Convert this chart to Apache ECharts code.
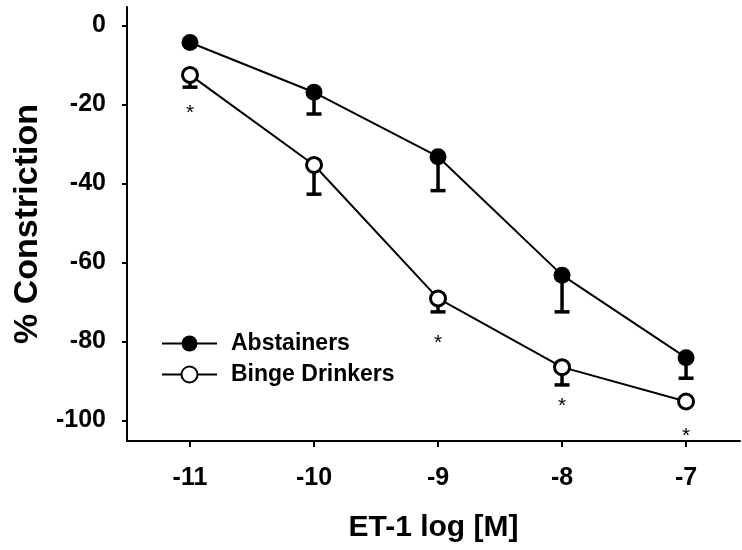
<!DOCTYPE html>
<html>
<head>
<meta charset="utf-8">
<script src="https://cdn.jsdelivr.net/npm/echarts@6/dist/echarts.min.js"></script>
<style>html,body{margin:0;padding:0;background:#fff;}#c{width:742px;height:550px;}</style>
</head>
<body>
<div id="c"></div>
<script>
const xValues = [-11, -10, -9, -8, -7];
const abstainers = [-4.3, -16.9, -33.2, -63.2, -84.1];
const abstainersErrLow = [null, -22.4, -41.8, -72.5, -89.3];
const binge = [-12.5, -35.3, -69.1, -86.5, -95.2];
const bingeErrLow = [-15.6, -42.7, -72.5, -91.0, null];
const asteriskX = [-11, -9, -8, -7];
const asteriskY = [-20.9, -79.1, -95.2, -102.8];
const yTicks = [0, -20, -40, -60, -80, -100];
const xTicks = [-11, -10, -9, -8, -7];
const seriesNames = ['Abstainers', 'Binge Drinkers'];

const FONT = "'Liberation Sans', Arial, sans-serif";
const chart = echarts.init(document.getElementById('c'), null, {renderer: 'canvas'});

function pairs(xs, ys) { return xs.map((x, i) => [x, ys[i]]); }
function errData(xs, mean, low) {
  const out = [];
  xs.forEach((x, i) => { if (low[i] !== null) out.push([x, mean[i], low[i]]); });
  return out;
}
function errRender(params, api) {
  const p0 = api.coord([api.value(0), api.value(1)]);
  const p1 = api.coord([api.value(0), api.value(2)]);
  const hw = 7.5;
  return {
    type: 'group',
    children: [
      {type: 'line', shape: {x1: p0[0], y1: p0[1], x2: p1[0], y2: p1[1]}, style: {stroke: '#000', lineWidth: 3.5}},
      {type: 'line', shape: {x1: p1[0] - hw, y1: p1[1], x2: p1[0] + hw, y2: p1[1]}, style: {stroke: '#000', lineWidth: 3.5}}
    ]
  };
}

const option = {
  animation: false,
  backgroundColor: '#fff',
  grid: {left: 127, right: 2, top: 7, bottom: 109, containLabel: false},
  legend: {
    orient: 'vertical',
    left: 161,
    top: 332,
    padding: 0,
    itemWidth: 55,
    itemHeight: 20,
    itemGap: 8,
    data: seriesNames,
    textStyle: {fontFamily: FONT, fontSize: 23, fontWeight: 'bold', color: '#000', padding: [0, 0, 0, 9]}
  },
  xAxis: {
    type: 'value',
    min: -11.508,
    max: -6.565,
    name: 'ET-1 log [M]',
    nameLocation: 'middle',
    nameGap: 72,
    nameTextStyle: {fontFamily: FONT, fontSize: 30, fontWeight: 'bold', color: '#000'},
    axisLine: {show: true, onZero: false, lineStyle: {color: '#000', width: 2}},
    axisTick: {show: true, customValues: xTicks, length: 6, lineStyle: {color: '#000', width: 2}},
    axisLabel: {show: true, customValues: xTicks, margin: 25, fontFamily: FONT, fontSize: 25, fontWeight: 'bold', color: '#000'},
    splitLine: {show: false}
  },
  yAxis: {
    type: 'value',
    min: -105.2,
    max: 4.7,
    name: '% Constriction',
    nameLocation: 'middle',
    nameGap: 80,
    nameRotate: 90,
    nameTextStyle: {fontFamily: FONT, fontSize: 34, fontWeight: 'bold', color: '#000'},
    axisLine: {show: true, onZero: false, lineStyle: {color: '#000', width: 2}},
    axisTick: {show: true, customValues: yTicks, length: 5, lineStyle: {color: '#000', width: 2}},
    axisLabel: {show: true, customValues: yTicks, margin: 21, fontFamily: FONT, fontSize: 25, fontWeight: 'bold', color: '#000'},
    splitLine: {show: false}
  },
  series: [
    {
      type: 'custom', name: 'errA', z: 1, silent: true,
      renderItem: errRender, data: errData(xValues, abstainers, abstainersErrLow)
    },
    {
      type: 'custom', name: 'errB', z: 1, silent: true,
      renderItem: errRender, data: errData(xValues, binge, bingeErrLow)
    },
    {
      type: 'line', name: seriesNames[0], z: 3,
      data: pairs(xValues, abstainers),
      symbol: 'circle', symbolSize: 17,
      lineStyle: {color: '#000', width: 2},
      itemStyle: {color: '#000', borderColor: '#000', borderWidth: 0}
    },
    {
      type: 'line', name: seriesNames[1], z: 3,
      data: pairs(xValues, binge),
      symbol: 'circle', symbolSize: 15,
      lineStyle: {color: '#000', width: 2},
      itemStyle: {color: '#fff', borderColor: '#000', borderWidth: 3}
    },
    {
      type: 'custom', name: 'sig', z: 4, silent: true,
      data: pairs(asteriskX, asteriskY),
      renderItem: function (params, api) {
        const p = api.coord([api.value(0), api.value(1)]);
        const fs = 21;
        return {
          type: 'text',
          style: {text: '*', x: p[0], y: p[1] + 0.23 * fs, align: 'center', verticalAlign: 'middle',
                  font: 'normal ' + fs + 'px ' + FONT, fill: '#000'}
        };
      }
    }
  ]
};
chart.setOption(option);
</script>
</body>
</html>
